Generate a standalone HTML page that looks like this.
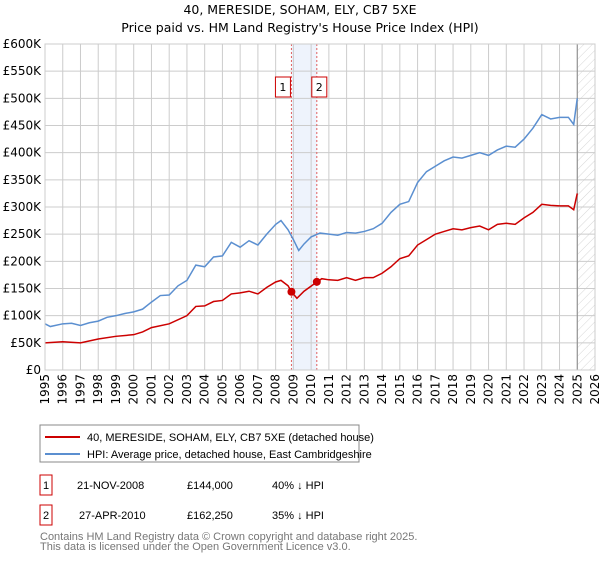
<!DOCTYPE html>
<html><head><meta charset="utf-8"><style>
body{margin:0;background:#fff;font-family:"Liberation Sans","DejaVu Sans",sans-serif;}
svg text{font-family:"DejaVu Sans","Liberation Sans",sans-serif;}
svg text.ls{font-family:"Liberation Sans","DejaVu Sans",sans-serif;}
</style></head><body>
<svg id="c" width="600" height="560" xmlns="http://www.w3.org/2000/svg">
<defs><pattern id="hatch" width="6" height="6" patternUnits="userSpaceOnUse" patternTransform="rotate(45)"><line x1="0" y1="0" x2="0" y2="6" stroke="#ccc" stroke-width="0.8"/></pattern></defs>
<text x="300" y="14" text-anchor="middle" font-size="12.5">40, MERESIDE, SOHAM, ELY, CB7 5XE</text>
<text x="300" y="32" text-anchor="middle" font-size="12.5">Price paid vs. HM Land Registry's House Price Index (HPI)</text>
<g id="plot"></g>
<rect x="40" y="425" width="319" height="37" fill="none" stroke="#888"/>
<line x1="45" y1="437" x2="80" y2="437" stroke="#cc0000" stroke-width="2"/>
<text class="ls" x="87" y="441" font-size="11">40, MERESIDE, SOHAM, ELY, CB7 5XE (detached house)</text>
<line x1="45" y1="454" x2="80" y2="454" stroke="#5b8fd0" stroke-width="2"/>
<text class="ls" x="87" y="458" font-size="11">HPI: Average price, detached house, East Cambridgeshire</text>
<g font-size="11">
<rect x="40" y="475" width="12" height="20" fill="none" stroke="#cc0000"/><text class="ls" x="46" y="489" text-anchor="middle">1</text>
<text class="ls" x="77" y="489">21-NOV-2008</text><text class="ls" x="187" y="489">£144,000</text><text class="ls" x="272" y="489">40% ↓ HPI</text>
<rect x="40" y="505" width="12" height="20" fill="none" stroke="#cc0000"/><text class="ls" x="46" y="519" text-anchor="middle">2</text>
<text class="ls" x="79" y="519">27-APR-2010</text><text class="ls" x="187" y="519">£162,250</text><text class="ls" x="272" y="519">35% ↓ HPI</text>
</g>
<text class="ls" x="40" y="540" font-size="11" fill="#777">Contains HM Land Registry data © Crown copyright and database right 2025.</text>
<text class="ls" x="40" y="550" font-size="11" fill="#777">This data is licensed under the Open Government Licence v3.0.</text>
</svg>
<script>
const yTicks=[0,50,100,150,200,250,300,350,400,450,500,550,600];
const yLabels=["£0","£50K","£100K","£150K","£200K","£250K","£300K","£350K","£400K","£450K","£500K","£550K","£600K"];
const xYears=[1995,1996,1997,1998,1999,2000,2001,2002,2003,2004,2005,2006,2007,2008,2009,2010,2011,2012,2013,2014,2015,2016,2017,2018,2019,2020,2021,2022,2023,2024,2025,2026];
const hpiT=[1995,1995.3,1996,1996.5,1997,1997.5,1998,1998.5,1999,1999.5,2000,2000.5,2001,2001.5,2002,2002.5,2003,2003.5,2004,2004.5,2005,2005.5,2006,2006.5,2007,2007.5,2008,2008.3,2008.7,2009,2009.3,2009.6,2010,2010.5,2011,2011.5,2012,2012.5,2013,2013.5,2014,2014.5,2015,2015.5,2016,2016.5,2017,2017.5,2018,2018.5,2019,2019.5,2020,2020.5,2021,2021.5,2022,2022.5,2023,2023.5,2024,2024.5,2024.8,2025];
const hpiV=[85,80,85,86,82,87,90,97,100,104,107,112,125,137,138,155,165,193,190,208,210,235,226,238,230,250,268,275,258,240,220,232,245,252,250,248,253,252,255,260,270,290,305,310,345,365,375,385,392,390,395,400,395,405,412,410,425,445,470,462,465,465,452,500];
const pT=[1995,1996,1997,1998,1999,2000,2000.5,2001,2002,2003,2003.5,2004,2004.5,2005,2005.5,2006,2006.5,2007,2007.5,2008,2008.3,2008.7,2008.89,2009.2,2009.6,2010.32,2010.6,2011,2011.5,2012,2012.5,2013,2013.5,2014,2014.5,2015,2015.5,2016,2016.5,2017,2017.5,2018,2018.5,2019,2019.5,2020,2020.5,2021,2021.5,2022,2022.5,2023,2023.5,2024,2024.5,2024.8,2025];
const pV=[50,52,50,57,62,65,70,78,85,100,117,118,126,128,140,142,145,140,152,162,165,155,144,132,145,162,168,166,165,170,165,170,170,178,190,205,210,230,240,250,255,260,258,262,265,258,268,270,268,280,290,305,303,302,302,295,325];
const saleT=[2008.89,2010.32];
const saleV=[144,162.25];
const saleLabels=["1","2"];
const X=t=>45+(t-1995)*(550/31);
const Y=v=>370-v*(326/600);
const NS="http://www.w3.org/2000/svg";
const g=document.getElementById('plot');
function mk(tag,a,p){const e=document.createElementNS(NS,tag);for(const k in a)e.setAttribute(k,a[k]);(p||g).appendChild(e);return e;}
let e=mk('rect',{x:X(saleT[0]),y:Y(600),width:X(saleT[1])-X(saleT[0]),height:Y(0)-Y(600),fill:'#eef3fc'});


e=mk('rect',{x:X(2025),y:Y(600),width:X(2026)-X(2025),height:Y(0)-Y(600),fill:'url(#hatch)'});


yTicks.forEach((v,i)=>{
 mk('line',{x1:45,x2:595,y1:Y(v),y2:Y(v),stroke:'#ccc'});
 const t=mk('text',{x:41,y:Y(v)+4,'text-anchor':'end','font-size':12});t.textContent=yLabels[i];
 
 
});
xYears.forEach(yr=>{
 mk('line',{x1:X(yr),x2:X(yr),y1:Y(600),y2:Y(0),stroke:'#ccc'});
 const t=mk('text',{x:X(yr)+4,y:374,'text-anchor':'end','font-size':12,transform:`rotate(-90 ${X(yr)+4} 374)`});t.textContent=yr;
 
 
});
mk('line',{x1:X(2025),x2:X(2025),y1:Y(600),y2:Y(0),stroke:'#888'});
saleT.forEach((t,i)=>{
 const l=mk('line',{x1:X(t),x2:X(t),y1:Y(600),y2:Y(0),stroke:'#e06060','stroke-dasharray':'2,2'});
 
 
});
function line(T,V,col,name){const p=mk('polyline',{points:T.map((t,i)=>X(t)+','+Y(V[i])).join(' '),fill:'none',stroke:col,'stroke-width':1.5});
 
 }
line(hpiT,hpiV,'#5b8fd0','hpi-line');
line(pT,pV,'#cc0000','price-paid-line');
saleT.forEach((t,i)=>{
 const c=mk('circle',{cx:X(t),cy:Y(saleV[i]),r:4,fill:'#cc0000'});
 
 
 const bx=X(t)-(i==0?16:0)+(i==0?0:-5);
 mk('rect',{x:bx,y:77,width:15,height:20,fill:'#fff',stroke:'#cc0000'});
 const tx=mk('text',{x:bx+7.5,y:91,'text-anchor':'middle','font-size':11});tx.textContent=saleLabels[i];
 
 
});
mk('rect',{x:45,y:Y(600),width:550,height:Y(0)-Y(600),fill:'none',stroke:'#ccc'});
</script>
</body></html>
